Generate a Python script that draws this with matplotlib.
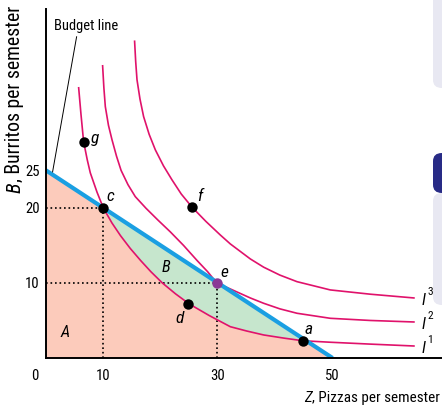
import os
import matplotlib
matplotlib.use("Agg")
import matplotlib.pyplot as plt
from matplotlib.patches import FancyBboxPatch, Polygon
from matplotlib import font_manager as fm
from matplotlib.font_manager import FontProperties

# ---- data ----
budget_x = [0, 50]
budget_y = [25, 0]

i1_x = [5.7, 6.1, 6.56, 7.2, 7.73, 8.9, 10.0, 11.5, 13.0, 14.7, 16.5, 18.3, 20.3, 22.6, 25.0,
        28.5, 32.16, 35.0, 37.98, 41.5, 44.8, 49.6, 56.6, 64.2]
i1_y = [36.0, 32.5, 28.84, 26.4, 24.67, 22.1, 20.0, 18.0, 16.3, 14.6, 13.0, 11.5, 10.0, 8.55, 7.2,
        5.65, 4.17, 3.6, 3.07, 2.65, 2.3, 2.1, 1.85, 1.6]

i2_x = [9.88, 10.1, 10.35, 10.9, 11.52, 12.3, 13.1, 14.3, 15.58, 17.45, 19.5, 21.7, 24.0, 26.35,
        28.2, 29.8, 32.16, 35.65, 37.98, 40.8, 43.8, 49.6, 56.6, 64.2]
i2_y = [38.93, 36.0, 33.5, 31.0, 29.07, 26.9, 25.0, 23.1, 21.5, 19.95, 18.4, 16.8, 15.0, 13.0,
        11.5, 10.0, 9.2, 8.0, 7.29, 6.55, 5.96, 5.29, 5.0, 4.8]

i3_x = [15.46, 15.65, 15.88, 16.4, 17.03, 18.0, 19.08, 20.5, 21.99, 23.6, 25.48, 27.9, 30.4,
        32.16, 35.65, 37.98, 40.8, 43.8, 49.6, 56.6, 64.2]
i3_y = [42.2, 39.5, 37.07, 34.5, 32.17, 29.8, 27.73, 25.6, 23.73, 21.85, 20.1, 18.2, 16.4,
        15.2, 13.2, 12.1, 11.05, 10.17, 9.07, 8.5, 8.0]

curve_labels = ['1', '2', '3']

point_names = ['g', 'c', 'f', 'e', 'd', 'a']
point_x = [6.56, 10.0, 25.48, 29.8, 24.8, 44.8]
point_y = [28.84, 20.0, 20.1, 10.0, 7.25, 2.3]

x_ticks = [10, 30, 50]
y_ticks = [10, 20, 25]

# ---- fonts: prefer a condensed sans like the original ----
_paths = [f.fname for f in fm.fontManager.ttflist]


def _find(prefixes):
    for pre in prefixes:
        for p in _paths:
            if os.path.basename(p).lower().startswith(pre.lower()):
                return p
    return None


_reg = _find(['LiberationSansNarrow-Regular', 'RobotoCondensed-Regular', 'RobotoCondensed[',
              'NotoSans-Condensed.', 'NotoSans-CondensedRegular', 'DejaVuSansCondensed.',
              'OpenSans_Condensed-Regular', 'OpenSansCondensed-Regular'])
_ita = _find(['LiberationSansNarrow-Italic', 'RobotoCondensed-Italic', 'RobotoCondensed-Italic[',
              'NotoSans-CondensedItalic', 'DejaVuSansCondensed-Oblique',
              'OpenSans_Condensed-Italic', 'OpenSansCondensed-Italic'])
FP = FontProperties(fname=_reg) if _reg else FontProperties(family='Liberation Sans')
FPI = FontProperties(fname=_ita) if _ita else FontProperties(family='Liberation Sans', style='italic')

# ---- figure ----
fig = plt.figure(figsize=(4.42, 4.09), dpi=100)
R = fig.canvas.get_renderer()
W, H = 442.0, 409.0


def fit(t, target, dim='w'):
    bb = t.get_window_extent(R)
    cur = bb.width if dim == 'w' else bb.height
    t.set_fontsize(t.get_fontsize() * target / cur)
    return t.get_fontsize()


# right-side page decorations
for (y0, y1, col) in [(0, 88, '#e8e8f2'), (193, 305, '#e8e8f2'), (153, 193, '#282b86')]:
    fig.patches.append(FancyBboxPatch((433 / W, 1 - y1 / H), 0.2, (y1 - y0) / H + (0.05 if y0 == 0 else 0),
                                      boxstyle="round,pad=0,rounding_size=0.02",
                                      transform=fig.transFigure, fc=col, ec='none', zorder=-1))

ax = fig.add_axes([46 / W, 51 / H, 396 / W, 349 / H])
ax.set_xlim(0, 69.1)
ax.set_ylim(0, 46.5)
ax.patch.set_alpha(0)

# fills
c_idx = i1_x.index(10.0)
a_idx = i1_x.index(44.8)
seg = list(zip(i1_x[c_idx:a_idx + 1], i1_y[c_idx:a_idx + 1]))
polyA = [(0, 0), (budget_x[0], budget_y[0])] + seg + [(budget_x[1], budget_y[1])]
ax.add_patch(Polygon(polyA, closed=True, fc='#fccbbb', ec='none', zorder=1))
ax.add_patch(Polygon(seg[::-1], closed=True, fc='#c6e6cd', ec='none', zorder=1))

# dotted guides
for px, py in [(point_x[1], point_y[1]), (point_x[3], point_y[3])]:
    ax.plot([0, px], [py, py], color='black', ls=(0, (1, 1.7)), lw=1.2, zorder=2)
    ax.plot([px, px], [0, py], color='black', ls=(0, (1, 1.7)), lw=1.2, zorder=2)

# indifference curves
for cx, cy in [(i1_x, i1_y), (i2_x, i2_y), (i3_x, i3_y)]:
    ax.plot(cx, cy, color='#e0126b', lw=1.2, zorder=3, solid_joinstyle='round')

# budget line
ax.plot(budget_x, budget_y, color='#1a9fe2', lw=3.0, zorder=4, solid_capstyle='butt')

# points
for n, px, py in zip(point_names, point_x, point_y):
    col = '#8a3896' if n == 'e' else 'black'
    ax.plot(px, py, 'o', color=col, ms=7.5, zorder=5, mec='none')

# tick labels
tick_size = 10.6
ax.set_xticks(x_ticks)
ax.set_yticks(y_ticks)
ax.set_xticklabels([str(t) for t in x_ticks], fontproperties=FP, fontsize=tick_size)
ax.set_yticklabels([str(t) for t in y_ticks], fontproperties=FP, fontsize=tick_size)
ax.tick_params(length=0)
ax.tick_params(axis='x', pad=8)
ax.tick_params(axis='y', pad=4.5)
ax.text(-1.87, -2.45, '0', fontproperties=FP, fontsize=tick_size, ha='center', va='center',
        clip_on=False)

label_pos = {'g': (8.6, 29.3), 'c': (11.3, 21.5), 'f': (26.8, 21.5),
             'e': (31.2, 11.4), 'd': (23.3, 5.3), 'a': (45.8, 3.8)}
for n in point_names:
    lx, ly = label_pos[n]
    ax.text(lx, ly, n, fontproperties=FPI, fontsize=12.5, ha='center', va='center', zorder=6)

ax.text(21.0, 12.1, 'B', fontproperties=FPI, fontsize=11.8, ha='center', va='center', zorder=6)
ax.text(3.4, 3.4, 'A', fontproperties=FPI, fontsize=11.8, ha='center', va='center', zorder=6)

# curve labels
for lab, cy in zip(curve_labels, [i1_y, i2_y, i3_y]):
    ax.text(65.5, cy[-1] - 0.4, 'I', fontproperties=FPI, fontsize=11.5,
            ha='left', va='center', zorder=6)
    ax.text(66.5, cy[-1] + 0.8, lab, fontproperties=FP, fontsize=8.2,
            ha='left', va='center', zorder=6)

# budget line label and leader
bl = ax.text(7.0, 44.3, 'Budget line', fontproperties=FP, fontsize=10, ha='center', va='center')
fit(bl, 64)
ax.plot([5.34, 1.15], [42.8, 24.8], color='black', lw=0.7, zorder=6)

# axes styling
for s in ['top', 'right']:
    ax.spines[s].set_visible(False)
for s in ['left', 'bottom']:
    ax.spines[s].set_linewidth(1.4)
    ax.spines[s].set_zorder(7)

# x axis title: italic Z + rest, right aligned
probe = fig.text(0, 0, 'Z, Pizzas per semester', fontproperties=FP, fontsize=10)
xs = fit(probe, 134)
probe.remove()
rest = fig.text(440 / W, 1 - 398 / H, ', Pizzas per semester', fontproperties=FP, fontsize=xs,
                ha='right', va='center')
bb = rest.get_window_extent(R)
fig.text(bb.x0 / W, 1 - 398 / H, 'Z', fontproperties=FPI, fontsize=xs, ha='right', va='center')

# y axis title: italic B + rest, rotated
probe = fig.text(0, 0, 'B, Burritos per semester', fontproperties=FP, fontsize=10, rotation=90)
ys = fit(probe, 186, dim='h')
probe.remove()
bt = fig.text(15 / W, 1 - 193 / H, 'B', fontproperties=FPI, fontsize=ys, rotation=90,
              ha='center', va='bottom')
bb = bt.get_window_extent(R)
fig.text(15 / W, bb.y1 / H, ', Burritos per semester', fontproperties=FP, fontsize=ys,
         rotation=90, ha='center', va='bottom')

fig.savefig('out.png', dpi=100)
